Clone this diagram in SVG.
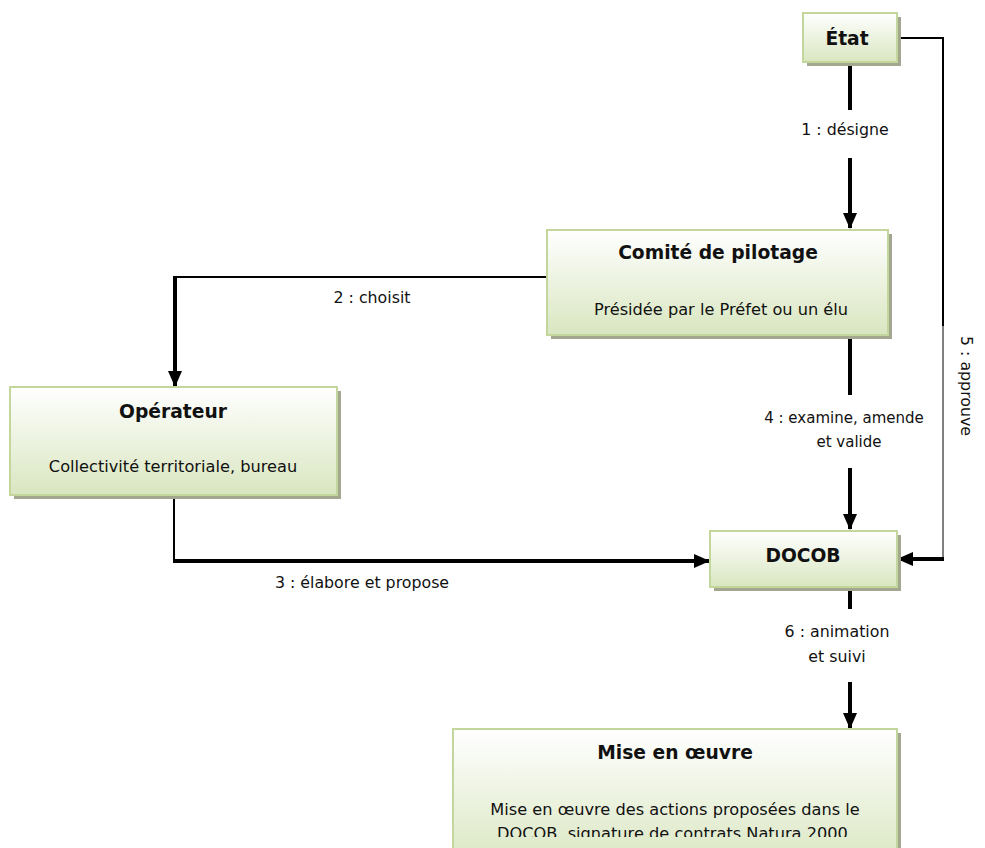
<svg xmlns="http://www.w3.org/2000/svg" width="985" height="848" viewBox="0 0 985 848">
<style>
  .box { fill: url(#boxfill); stroke: #c3d69b; stroke-width: 2; }
  .shadow { fill: #a3a78f; }
  .title { font-family: "DejaVu Sans", "Open Sans", sans-serif; font-weight: bold; font-size: 18.7px; fill: #111; text-anchor: middle; }
  .sub { font-family: "DejaVu Sans", "Open Sans", sans-serif; font-size: 16.2px; fill: #111; text-anchor: middle; }
  .lbl { font-family: "DejaVu Sans", "Open Sans", sans-serif; font-size: 15.8px; fill: #111; text-anchor: middle; }
  .lbl-small { font-family: "DejaVu Sans", "Open Sans", sans-serif; font-size: 15px; fill: #111; text-anchor: middle; }
  .thick { fill: none; stroke: #000; stroke-width: 4; }
  .thin { fill: none; stroke: #000; stroke-width: 2; }
  .hair { fill: none; stroke: #000; stroke-width: 1; }
</style>
<defs>
  <linearGradient id="boxfill" x1="0" y1="0" x2="0" y2="1">
    <stop offset="0" stop-color="#ffffff"/>
    <stop offset="1" stop-color="#d9e6c0"/>
  </linearGradient>
  <marker id="arr" markerUnits="userSpaceOnUse" markerWidth="16" markerHeight="14" refX="15" refY="7" orient="auto">
    <path d="M0,0 L16,7 L0,14 Z" fill="#000"/>
  </marker>
  <clipPath id="clipBottom"><rect x="0" y="0" width="985" height="837"/></clipPath>
</defs>
<rect width="985" height="848" fill="#fff"/>

<g id="connectors">
  <!-- 1 : désigne -->
  <line class="thick" x1="850" y1="62" x2="850" y2="110"/>
  <line class="thick" x1="850" y1="158" x2="850" y2="228" marker-end="url(#arr)"/>
  <text class="lbl" x="845" y="135">1 : désigne</text>
  <!-- 2 : choisit -->
  <polyline class="thin" points="547,277 175,277"/>
  <line class="thick" x1="175" y1="276" x2="175" y2="386" marker-end="url(#arr)"/>
  <text class="lbl" x="372" y="303">2 : choisit</text>
  <!-- 3 : élabore et propose -->
  <line class="thin" x1="174" y1="495" x2="174" y2="561"/>
  <line class="thick" x1="173" y1="561" x2="709" y2="561" marker-end="url(#arr)"/>
  <text class="lbl" x="362" y="588">3 : élabore et propose</text>
  <!-- 4 : examine, amende et valide -->
  <line class="thick" x1="850" y1="335" x2="850" y2="395"/>
  <line class="thick" x1="850" y1="468" x2="850" y2="529" marker-end="url(#arr)"/>
  <text class="lbl-small" x="844" y="423">4 : examine, amende</text>
  <text class="lbl-small" x="849" y="447">et valide</text>
  <!-- 5 : approuve -->
  <polyline class="thin" points="897,38 943,38 943,326"/>
  <line class="hair" x1="943" y1="326" x2="943" y2="559"/>
  <line class="thick" x1="944" y1="559" x2="898" y2="559" marker-end="url(#arr)"/>
  <text class="lbl" transform="translate(961,386) rotate(90)" x="0" y="0">5 : approuve</text>
  <!-- 6 : animation et suivi -->
  <line class="thick" x1="850" y1="587" x2="850" y2="609"/>
  <line class="thick" x1="850" y1="682" x2="850" y2="728" marker-end="url(#arr)"/>
  <text class="lbl" x="837" y="637">6 : animation</text>
  <text class="lbl" x="837" y="662">et suivi</text>
</g>

<g id="etat">
  <rect class="shadow" x="807" y="17" width="94" height="49"/>
  <rect class="box" x="803" y="13" width="94" height="49"/>
  <text class="title" x="847" y="45">État</text>
</g>

<g id="comite">
  <rect class="shadow" x="551" y="234" width="341" height="105"/>
  <rect class="box" x="547" y="230" width="341" height="105"/>
  <text class="title" x="718" y="259">Comité de pilotage</text>
  <text class="sub" x="721" y="315">Présidée par le Préfet ou un élu</text>
</g>

<g id="operateur">
  <rect class="shadow" x="14" y="391" width="327" height="108"/>
  <rect class="box" x="10" y="387" width="327" height="108"/>
  <text class="title" x="173" y="418">Opérateur</text>
  <text class="sub" x="173" y="472">Collectivité territoriale, bureau</text>
</g>

<g id="docob">
  <rect class="shadow" x="714" y="535" width="187" height="56"/>
  <rect class="box" x="710" y="531" width="187" height="56"/>
  <text class="title" x="803" y="562">DOCOB</text>
</g>

<g id="mise-en-oeuvre">
  <rect class="shadow" x="457" y="733" width="444" height="140"/>
  <rect class="box" x="453" y="729" width="444" height="140"/>
  <text class="title" x="675" y="759">Mise en œuvre</text>
  <g clip-path="url(#clipBottom)">
    <text class="sub" x="675" y="815">Mise en œuvre des actions proposées dans le</text>
    <text class="sub" x="675" y="839">DOCOB, signature de contrats Natura 2000.</text>
  </g>
</g>
</svg>
